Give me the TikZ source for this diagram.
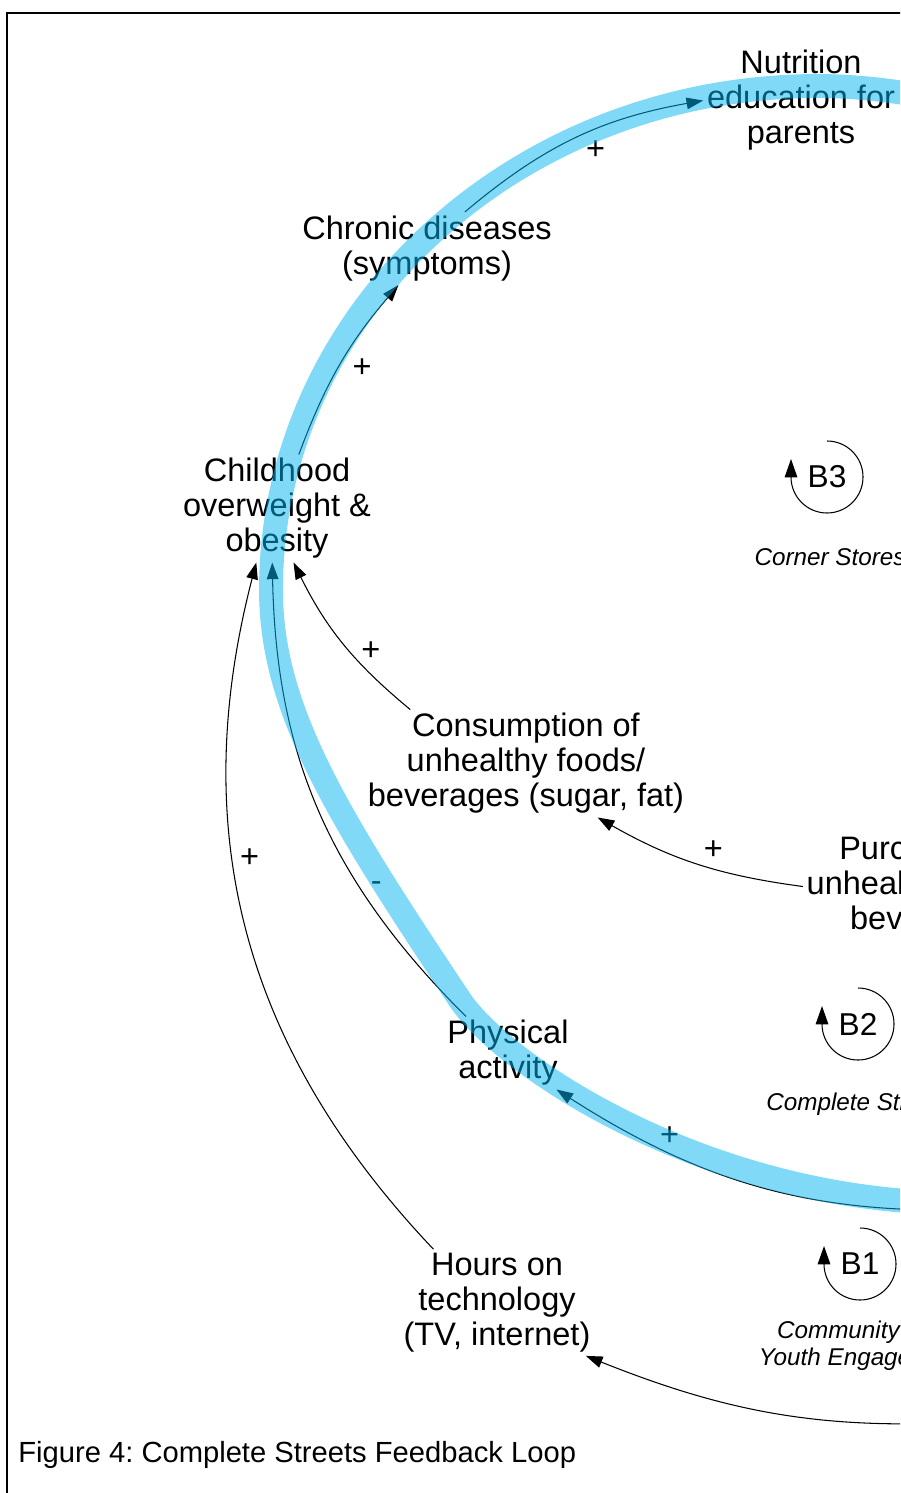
\documentclass[tikz,border=0pt]{standalone}
\usepackage{fontspec}
\setmainfont{Liberation Sans}
\usetikzlibrary{arrows.meta}
\definecolor{loopblue}{RGB}{0,180,240}
\frenchspacing
\tikzset{
  var/.style={align=center, inner sep=2pt, font=\fontsize{18.5}{19.9}\selectfont},
  sgn/.style={inner sep=0pt, font=\fontsize{18.5}{19.9}\selectfont},
  link/.style={line width=0.6pt, -{Triangle[length=9.5pt,width=6.6pt]}},
  loopid/.style={inner sep=0pt, font=\fontsize{18}{20}\selectfont},
  looparc/.style={line width=0.6pt, -{Triangle[length=10.5pt,width=7.2pt]}},
  loopname/.style={align=center, inner sep=0pt, font=\fontsize{13.8}{15.3}\selectfont\itshape},
  band/.style={line width=13.6pt, draw=loopblue, opacity=.5}
}

\begin{document}
\begin{tikzpicture}[x=0.02cm, y=0.02cm]
			%%%%% START %%%%%
			\useasboundingbox (0,0) rectangle (900,-1493);
			\clip (0,0) rectangle (900,-1493);
			
			\draw[line width=1.1pt] (7,-1600) -- (7,-13) -- (1000,-13);
			
			\node[var] (nutr) at (801,-100.5) {Nutrition\\education for\\parents};
			\node[var] (chron) at (427,-248.5) {Chronic diseases\\(symptoms)};
			\node[var] (child) at (277,-508.5) {Childhood\\overweight \&\\obesity};
			\node[var] (cons) at (526,-763.5) {Consumption of\\unhealthy foods/\\beverages (sugar, fat)};
			\node[var] (purch) at (926,-886.5) {Purchase of\\unhealthy foods/\\beverages};
			\node[var] (phys) at (508,-1053) {Physical\\activity};
			\node[var] (hours) at (497,-1302.5) {Hours on\\technology\\(TV, internet)};
			
			\coordinate (offright1) at (1010,-1208);
			\coordinate (offright2) at (1000,-1420);
			
			\draw[link] (child.68) to[bend left=10] node[sgn, pos=.5, shift={(22,-3)}] {+} (chron.-128);
			\draw[link] (chron.44) to[bend left=15] node[sgn, pos=.5, shift={(20,-12)}] {+} (nutr.west);
			\draw[link] (offright1) to[bend left=18] node[sgn, pos=.75, shift={(3,15)}] {+} (phys.-37);
			\draw[link] (phys.139) to[bend left=22] node[sgn, pos=.32, shift={(17,0)}] {-} (child.-95);
			\draw[link] (cons.155) to[bend left=12] node[sgn, pos=.5, shift={(28,-8)}] {+} (child.-73);
			\draw[link] (hours.140) to[bend left=29] node[sgn, pos=.6, shift={(16,4)}] {+} (child.-111);
			\draw[link] (purch.west) to[bend left=11] node[sgn, pos=.5, shift={(17,13)}] {+} (cons.-37);
			\draw[link] (offright2) to[bend left=13] (hours.-31);
			
			% loop markers
			\node[loopid] (b3) at (827,-477) {B3};
			\draw[looparc] (b3) ++(0,36) arc[start angle=90, end angle=-180, radius=36] -- ++(0,18);
			\node[loopname] (b3name) at (830,-557) {Corner Stores};
			
			\node[loopid] (b2) at (858,-1024) {B2};
			\draw[looparc] (b2) ++(0,36) arc[start angle=90, end angle=-180, radius=36] -- ++(0,18);
			\node[loopname] (b2name) at (860,-1104) {Complete Streets};
			
			\node[loopid] (b1) at (860,-1264) {B1};
			\draw[looparc] (b1) ++(0,36) arc[start angle=90, end angle=-180, radius=36] -- ++(0,18);
			\node[loopname] (b1name) at (862,-1346) {Community and\\Youth Engagement};
			
			% highlighted loop
			\draw[band] (960,-104) .. controls (910,-92) and (860,-86) .. (818,-86)
			  .. controls (516,-86) and (271,-312) .. (271,-590)
			  .. controls (271,-710) and (338,-817) .. (460,-1000)
			  .. controls (504.5,-1066.4) and (710,-1203) .. (960,-1203);
			
			\node[anchor=west, inner sep=0pt, font=\fontsize{16.6}{18}\selectfont] (caption) at (18,-1455) {Figure 4: Complete Streets Feedback Loop};
			%%%%% END %%%%%
\end{tikzpicture}
\end{document}
